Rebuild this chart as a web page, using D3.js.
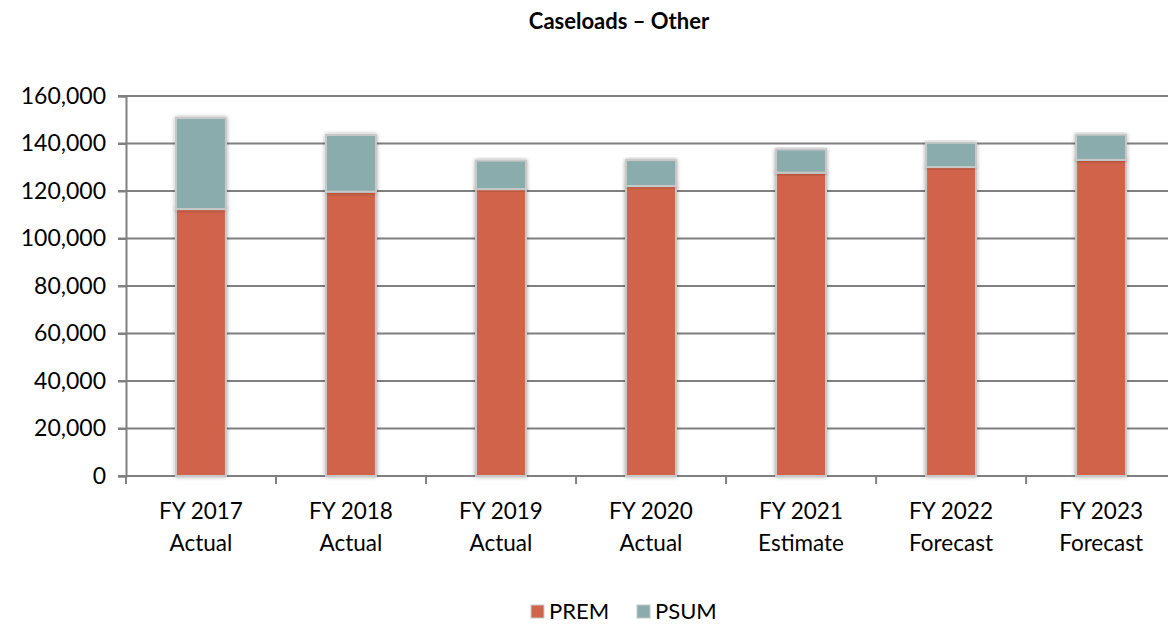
<!DOCTYPE html>
<html><head><meta charset="utf-8">
<script src="https://cdn.jsdelivr.net/npm/d3@7"></script>
<style>body{margin:0;background:#fff}svg{display:block}text{font-family:Lato,"Open Sans",sans-serif}</style>
</head><body><svg id="c" width="1168" height="624"></svg>
<script>
const categories = ["FY 2017|Actual","FY 2018|Actual","FY 2019|Actual","FY 2020|Actual","FY 2021|Estimate","FY 2022|Forecast","FY 2023|Forecast"];
const prem = [112400,119700,120800,122100,127700,130100,133100];
const psum = [38300,23900,12000,10900,9800,10200,10600];
const seriesNames = ["PREM","PSUM"];
const colors = ["#D0644A","#8AACAC"];
const yTicks = [0,20000,40000,60000,80000,100000,120000,140000,160000];

const svg = d3.select("#c");
const L=126, R=1176, T=96, B=476;
const x = d3.scaleBand().domain(categories).range([L,R]).paddingInner(0.667).paddingOuter(0.333);
const y = d3.scaleLinear().domain([0,160000]).range([B,T]);

svg.append("text").attr("x",619).attr("y",29).attr("text-anchor","middle")
  .attr("font-size",22).attr("font-weight","bold").attr("fill","#000").text("Caseloads – Other");

// gridlines
svg.append("g").selectAll("line").data(yTicks.slice(1)).join("line")
  .attr("x1",L-8).attr("x2",1168).attr("y1",d=>y(d)).attr("y2",d=>y(d))
  .attr("stroke","#808080").attr("stroke-width",2);

// y axis
const ya = svg.append("g").attr("transform",`translate(${L},0)`)
  .call(d3.axisLeft(y).tickValues(yTicks).tickSize(8).tickPadding(12).tickFormat(d3.format(",")));
ya.select(".domain").attr("stroke","#808080").attr("stroke-width",2);
ya.selectAll(".tick line").attr("stroke","#808080").attr("stroke-width",2);
ya.selectAll("text").attr("font-size",23).attr("fill","#000").attr("font-family","Lato, sans-serif");

// x axis
const xa = svg.append("g").attr("transform",`translate(0,${B})`);
xa.append("line").attr("x1",L-8).attr("x2",1168).attr("y1",0).attr("y2",0).attr("stroke","#808080").attr("stroke-width",2);
const step = x.step();
xa.selectAll("line.tk").data(d3.range(categories.length+1)).join("line").attr("class","tk")
  .attr("x1",i=>L+i*step).attr("x2",i=>L+i*step).attr("y1",0).attr("y2",8)
  .attr("stroke","#808080").attr("stroke-width",2);
const lbl = xa.selectAll("text").data(categories).join("text")
  .attr("text-anchor","middle").attr("font-size",22.5).attr("fill","#000")
  .attr("transform",d=>`translate(${x(d)+x.bandwidth()/2},0)`);
lbl.each(function(d){
  const parts=d.split("|");
  d3.select(this).selectAll("tspan").data(parts).join("tspan").attr("x",0).attr("y",(p,i)=>43+i*32).text(p=>p);
});

// shadow filter
const defs = svg.append("defs");
const f = defs.append("filter").attr("id","sh").attr("x","-30%").attr("y","-10%").attr("width","160%").attr("height","120%");
f.append("feGaussianBlur").attr("in","SourceAlpha").attr("stdDeviation",2);
f.append("feOffset").attr("dx",0).attr("dy",0).attr("result","b");
f.append("feComponentTransfer").append("feFuncA").attr("type","linear").attr("slope",0.35);
const m=f.append("feMerge"); m.append("feMergeNode"); m.append("feMergeNode").attr("in","SourceGraphic");

const data = categories.map((c,i)=>({cat:c,PREM:prem[i],PSUM:psum[i]}));
const stack = d3.stack().keys(seriesNames)(data);
const bars = svg.append("g");
stack.forEach((s,si)=>{
  bars.append("g").selectAll("rect").data(s).join("rect")
    .attr("x",d=>x(d.data.cat)).attr("width",x.bandwidth())
    .attr("y",d=>y(d[1])).attr("height",d=>y(d[0])-y(d[1]))
    .attr("fill",colors[si]).attr("stroke","#c8c8c8").attr("stroke-width",2)
    .attr("filter","url(#sh)");
});

// legend
const lg = svg.append("g");
const items=[{n:"PREM",x:531},{n:"PSUM",x:637}];
items.forEach((it,i)=>{
  lg.append("rect").attr("x",it.x).attr("y",605).attr("width",13).attr("height",13)
    .attr("fill",colors[i]).attr("stroke","#c8c8c8").attr("stroke-width",1);
  lg.append("text").attr("x",it.x+18).attr("y",619).attr("font-size",22).attr("fill","#000").text(it.n);
});
</script></body></html>
